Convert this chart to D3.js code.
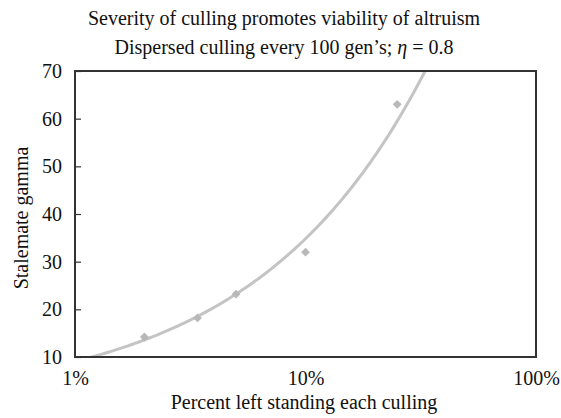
<!DOCTYPE html>
<html>
<head>
<meta charset="utf-8">
<script src="https://cdn.jsdelivr.net/npm/d3@7"></script>
<style>
  body { margin: 0; background: #fff; }
  text { font-family: "Liberation Serif", "Times New Roman", serif; fill: #111; }
</style>
</head>
<body>
<svg id="chart" width="561" height="418"></svg>
<script>
// Percent of population left standing after each culling, and the stalemate gamma
const percentLeft = [2, 3.4, 5, 10, 25];
const stalemateGamma = [14.2, 18.2, 23.2, 32, 63];
const xTickValues = [1, 10, 100];
const yTickValues = [10, 20, 30, 40, 50, 60, 70];
const titleLine1 = "Severity of culling promotes viability of altruism";

const svg = d3.select("#chart");
const margin = { left: 75, right: 25, top: 71, bottom: 61 };
const W = 561, H = 418;
const FS = 20;

const x = d3.scaleLog().domain([1, 100]).range([margin.left, W - margin.right]);
const y = d3.scaleLinear().domain([10, 70]).range([H - margin.bottom, margin.top]);

// Titles
const title = svg.append("text").attr("text-anchor", "middle").attr("font-size", FS);
title.append("tspan").attr("x", 284).attr("y", 25).text(titleLine1);
const sub = title.append("tspan").attr("x", 284).attr("y", 54);
sub.append("tspan").text("Dispersed culling every 100 gen\u2019s; ");
sub.append("tspan").attr("font-style", "italic").text("\u03b7");
sub.append("tspan").text(" = 0.8");

// Clip region for the trendline
svg.append("clipPath").attr("id", "plotClip").append("rect")
  .attr("x", margin.left).attr("y", margin.top)
  .attr("width", W - margin.right - margin.left)
  .attr("height", H - margin.bottom - margin.top);

// Power-law trendline: least squares on log-log values
const lx = percentLeft.map(Math.log), ly = stalemateGamma.map(Math.log);
const mx = d3.mean(lx), my = d3.mean(ly);
const b = d3.sum(lx, (v, i) => (v - mx) * (ly[i] - my)) / d3.sum(lx, v => (v - mx) ** 2);
const a = Math.exp(my - b * mx);
const fitX = d3.range(0, 201).map(i => Math.pow(10, i / 100));
const fitLine = d3.line().x(d => x(d)).y(d => y(a * Math.pow(d, b)));
svg.append("path")
  .datum(fitX)
  .attr("clip-path", "url(#plotClip)")
  .attr("d", fitLine)
  .attr("fill", "none")
  .attr("stroke", "#c4c4c4")
  .attr("stroke-width", 3);

// Data points (diamonds)
svg.append("g").selectAll("path")
  .data(percentLeft.map((p, i) => [p, stalemateGamma[i]]))
  .join("path")
  .attr("transform", d => `translate(${x(d[0])},${y(d[1])})`)
  .attr("d", d3.symbol().type(d3.symbolDiamond2).size(50))
  .attr("fill", "#b8b8b8");

// Y axis: inward ticks on the left edge
const yAxis = svg.append("g").attr("transform", `translate(${margin.left},0)`)
  .call(d3.axisLeft(y).tickValues(yTickValues).tickSize(-6).tickPadding(13).tickFormat(d3.format("d")));
yAxis.select(".domain").remove();
yAxis.selectAll(".tick line").attr("stroke", "#333").attr("stroke-width", 1.2);
yAxis.selectAll(".tick text").attr("font-size", FS).attr("font-family", "Liberation Serif, serif").attr("fill", "#111");

// X axis: labels only at decades
const xAxis = svg.append("g").attr("transform", `translate(0,${H - margin.bottom})`)
  .call(d3.axisBottom(x).tickValues(xTickValues).tickSize(0).tickPadding(14).tickFormat(d => d + "%"));
xAxis.select(".domain").remove();
xAxis.selectAll(".tick text").attr("font-size", FS).attr("font-family", "Liberation Serif, serif").attr("fill", "#111");

// Plot frame
svg.append("rect")
  .attr("x", margin.left).attr("y", margin.top)
  .attr("width", W - margin.right - margin.left)
  .attr("height", H - margin.bottom - margin.top)
  .attr("fill", "none").attr("stroke", "#333").attr("stroke-width", 2);

// Axis titles
svg.append("text").attr("text-anchor", "middle").attr("font-size", FS)
  .attr("x", 304).attr("y", 409)
  .text("Percent left standing each culling");
svg.append("text").attr("text-anchor", "middle").attr("font-size", FS)
  .attr("transform", `translate(28,218) rotate(-90)`)
  .text("Stalemate gamma");
</script>
</body>
</html>
